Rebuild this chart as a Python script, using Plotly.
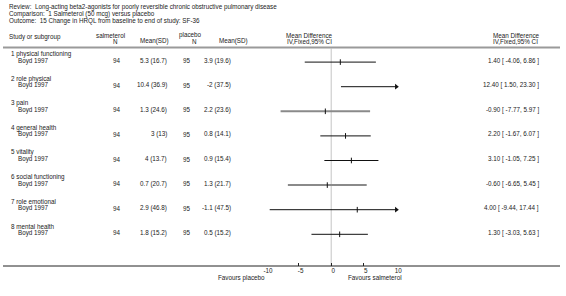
import plotly.graph_objects as go

W, H = 566, 296

review = "Review:  Long-acting beta2-agonists for poorly reversible chronic obstructive pulmonary disease"
comparison = "Comparison:  1 Salmeterol (50 mcg) versus placebo"
outcome = "Outcome:  15 Change in HRQL from baseline to end of study: SF-36"

subgroups = ["1 physical functioning", "2 role physical", "3 pain", "4 general health",
             "5 vitality", "6 social functioning", "7 role emotional", "8 mental health"]
studies = ["Boyd 1997"] * 8
n_salm = [94, 94, 94, 94, 94, 94, 94, 94]
mean_salm = [5.3, 10.4, 1.3, 3, 4, 0.7, 2.9, 1.8]
sd_salm = [16.7, 36.9, 24.6, 13, 13.7, 20.7, 46.8, 15.2]
n_plac = [95, 95, 95, 95, 95, 95, 95, 95]
mean_plac = [3.9, -2, 2.2, 0.8, 0.9, 1.3, -1.1, 0.5]
sd_plac = [19.6, 37.5, 23.6, 14.1, 15.4, 21.7, 47.5, 15.2]
md = [1.40, 12.40, -0.90, 2.20, 3.10, -0.60, 4.00, 1.30]
ci_lo = [-4.06, 1.50, -7.77, -1.67, -1.05, -6.65, -9.44, -3.03]
ci_hi = [6.86, 23.30, 5.97, 6.07, 7.25, 5.45, 17.44, 5.63]
tick_vals = [-10, -5, 0, 5, 10]
tick_text = ["-10", "-5", "0", "5", "10"]
x_range = [-10, 10]

FONT = "Liberation Sans, Arial, sans-serif"
FS = 6.3
TXT = "#222222"

# layout geometry (pixels)
AX_L, AX_R = 267.3, 399.7
AXIS_Y = 266
HEADER_LINE_Y = 47.5
ROW0_TITLE, ROW0_STUDY, ROW_STEP = 54, 60.6, 24.6

fig = go.Figure()
ann = []

def txt(x, y, s, anchor="left", size=FS):
    ann.append(dict(x=x / W, y=y, xref="paper", yref="y", text=s, showarrow=False,
                    xanchor=anchor, yanchor="middle", borderpad=0,
                    font=dict(family=FONT, size=size, color=TXT)))

txt(5, 6.5, review)
txt(5, 13.5, comparison)
txt(5, 20.5, outcome)

txt(5, 37, "Study or subgroup")
txt(109, 35, "salmeterol", "center")
txt(114, 41, "N", "center")
txt(154, 41, "Mean(SD)", "center")
txt(191, 35, "placebo", "center")
txt(195, 41, "N", "center")
txt(234, 41, "Mean(SD)", "center")
txt(311, 35, "Mean Difference", "center")
txt(311, 41, "IV,Fixed,95% CI", "center")
txt(522, 35, "Mean Difference", "center")
txt(521, 41, "IV,Fixed,95% CI", "center")

for i in range(len(subgroups)):
    yt = ROW0_TITLE + ROW_STEP * i
    ys = ROW0_STUDY + ROW_STEP * i
    txt(7, yt, subgroups[i])
    txt(14, ys, studies[i])
    txt(121, ys, str(n_salm[i]), "right")
    txt(168, ys, f"{mean_salm[i]:g} ({sd_salm[i]:g})", "right")
    txt(192, ys, str(n_plac[i]), "right")
    txt(233, ys, f"{mean_plac[i]:g} ({sd_plac[i]:g})", "right")
    txt(546, ys, f"{md[i]:.2f} [ {ci_lo[i]:.2f}, {ci_hi[i]:.2f} ]", "right")

    yl = ys + 1.5
    lo = max(ci_lo[i], x_range[0])
    hi = min(ci_hi[i], x_range[1])
    soft = i in (2, 5)
    fig.add_trace(go.Scatter(x=[lo, hi], y=[yl, yl], mode="lines",
                             line=dict(color="#8a8a8a" if soft else "#111111",
                                       width=2 if soft else 1),
                             hoverinfo="skip", showlegend=False, cliponaxis=False))
    fig.add_trace(go.Scatter(x=[md[i]], y=[yl], mode="markers",
                             marker=dict(symbol="line-ns", size=4,
                                         line=dict(color="#111111", width=1)),
                             hoverinfo="skip", showlegend=False, cliponaxis=False))
    if ci_hi[i] > x_range[1]:
        fig.add_trace(go.Scatter(x=[x_range[1]], y=[yl], mode="markers",
                                 marker=dict(symbol="triangle-right", size=5, color="#111111"),
                                 hoverinfo="skip", showlegend=False, cliponaxis=False))
    if ci_lo[i] < x_range[0]:
        fig.add_trace(go.Scatter(x=[x_range[0]], y=[yl], mode="markers",
                                 marker=dict(symbol="triangle-left", size=5, color="#111111"),
                                 hoverinfo="skip", showlegend=False, cliponaxis=False))

txt(267, 277.5, "Favours placebo", "right")
txt(350, 277.5, "Favours salmeterol", "left")

shapes = [
    dict(type="line", xref="paper", yref="y", x0=0, x1=1, y0=HEADER_LINE_Y, y1=HEADER_LINE_Y,
         line=dict(color="#9a9a9a", width=2)),
    dict(type="line", xref="paper", yref="y", x0=0, x1=1, y0=AXIS_Y, y1=AXIS_Y,
         line=dict(color="#222222", width=1)),
    dict(type="line", xref="x", yref="y", x0=0, x1=0, y0=HEADER_LINE_Y + 1, y1=AXIS_Y,
         line=dict(color="#c4c4c4", width=1), layer="below"),
]

fig.update_layout(
    width=W, height=H, margin=dict(l=0, r=0, t=0, b=0),
    paper_bgcolor="white", plot_bgcolor="rgba(0,0,0,0)",
    annotations=ann, shapes=shapes,
    xaxis=dict(domain=[AX_L / W, AX_R / W], range=x_range, anchor="free",
               position=1 - AXIS_Y / H, showgrid=False, zeroline=False, showline=False,
               ticks="inside", ticklen=3, tickcolor="#222222", tickwidth=1,
               tickvals=tick_vals, ticktext=tick_text, ticklabelshift=2,
               tickfont=dict(family=FONT, size=FS, color=TXT)),
    yaxis=dict(domain=[0, 1], range=[H, 0], visible=False, fixedrange=True),
    showlegend=False,
    hovermode=False,
)

fig.write_html("out.html", config={"displayModeBar": False, "staticPlot": True},
               post_script="document.body.style.margin='0';document.body.style.overflow='hidden';")
